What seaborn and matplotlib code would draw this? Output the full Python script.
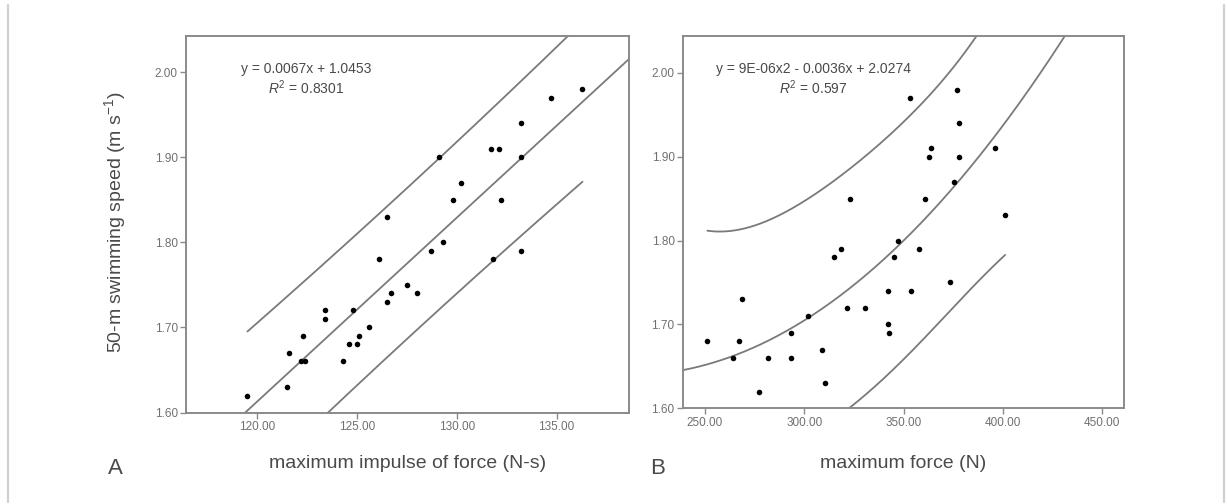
import numpy as np
import matplotlib
matplotlib.use("Agg")
import matplotlib.pyplot as plt
import seaborn as sns
from matplotlib.lines import Line2D

# 50-m swimming speed of each athlete (m/s)
speed = [1.98, 1.97, 1.94, 1.91, 1.91, 1.90, 1.90, 1.87, 1.85, 1.85, 1.83,
         1.80, 1.79, 1.79, 1.78, 1.78, 1.75, 1.74, 1.74, 1.73, 1.72, 1.72,
         1.71, 1.70, 1.69, 1.69, 1.68, 1.68, 1.67, 1.66, 1.66, 1.66, 1.63, 1.62]

# Panel A: maximum impulse of force (N-s), paired with speed above
impulse = [136.3, 134.7, 133.2, 131.7, 132.1, 133.2, 129.1, 130.2, 129.8, 132.2, 126.5,
           129.3, 128.7, 133.2, 131.8, 126.1, 127.5, 126.7, 128.0, 126.5, 123.4, 124.8,
           123.4, 125.6, 122.3, 125.1, 124.6, 125.0, 121.6, 122.2, 122.4, 124.3, 121.5, 119.5]

# Panel B: maximum force (N), paired with speed above
force = [376.7, 353.2, 377.9, 363.8, 396.0, 363.0, 377.9, 375.5, 323.0, 360.8, 401.1,
         347.0, 318.3, 357.6, 315.0, 345.2, 373.4, 342.3, 353.9, 268.6, 321.3, 330.4,
         301.7, 342.3, 293.2, 342.8, 251.2, 267.1, 308.8, 263.9, 281.6, 293.2, 310.4, 277.3]

eq_a = ["y = 0.0067x + 1.0453", "$R^2$ = 0.8301"]
eq_b = ["y = 9E-06x2 - 0.0036x + 2.0274", "$R^2$ = 0.597"]
xlabel_a = "maximum impulse of force (N-s)"
xlabel_b = "maximum force (N)"
ylabel = "50-m swimming speed (m s$^{-1}$)"
xticks_a = [120, 125, 130, 135]
xticks_b = [250, 300, 350, 400, 450]
yticks = [1.60, 1.70, 1.80, 1.90, 2.00]

sns.set_theme(style="white")
plt.rcParams["font.family"] = ["Liberation Sans", "DejaVu Sans"]
plt.rcParams["mathtext.fontset"] = "custom"
plt.rcParams["mathtext.rm"] = "Liberation Sans"
plt.rcParams["mathtext.it"] = "Liberation Sans:italic"

SPINE = "#8a8a8a"
LINE = "#7a7a7a"
TXT = "#4a4a4a"
TICKTXT = "#707070"
T_CRIT = 2.04  # two-sided 95% t value for ~32 degrees of freedom


def poly_fit(x, y, deg):
    x = np.asarray(x, float)
    y = np.asarray(y, float)
    X = np.vander(x, deg + 1)
    beta, *_ = np.linalg.lstsq(X, y, rcond=None)
    resid = y - X @ beta
    s2 = resid @ resid / (len(x) - deg - 1)
    cov = np.linalg.inv(X.T @ X)

    def predict(grid):
        G = np.vander(grid, deg + 1)
        mean = G @ beta
        se = np.sqrt(s2 * (1 + np.einsum("ij,jk,ik->i", G, cov, G)))
        return mean, mean - T_CRIT * se, mean + T_CRIT * se

    return predict


fig = plt.figure(figsize=(12.27, 5.04), dpi=100)
ax_a = fig.add_axes([0.1516, 0.1815, 0.3610, 0.7470])
ax_b = fig.add_axes([0.5566, 0.1899, 0.3594, 0.7387])

panels = [
    (ax_a, impulse, 1, (116.42, 138.63), (1.60, 2.0425), xticks_a, xlabel_a, eq_a, 0.271),
    (ax_b, force, 2, (238.9, 460.9), (1.60, 2.0438), xticks_b, xlabel_b, eq_b, 0.295),
]

for ax, xs, deg, xlim, ylim, xticks, xlabel, eq, eqx in panels:
    predict = poly_fit(xs, speed, deg)
    full = np.linspace(xlim[0], xlim[1], 400)
    mean, _, _ = predict(full)
    span = np.linspace(min(xs), max(xs), 400)
    _, lo, hi = predict(span)

    ax.plot(full, mean, color=LINE, lw=1.3, zorder=2)
    ax.plot(span, lo, color=LINE, lw=1.3, zorder=2)
    ax.plot(span, hi, color=LINE, lw=1.3, zorder=2)
    sns.scatterplot(x=xs, y=speed, ax=ax, color="black", s=16, linewidth=0, zorder=3)

    ax.set_xlim(*xlim)
    ax.set_ylim(*ylim)
    ax.set_xticks(xticks)
    ax.set_xticklabels([f"{v:.2f}" for v in xticks])
    ax.set_yticks(yticks)
    ax.set_yticklabels([f"{v:.2f}" for v in yticks])
    ax.tick_params(axis="both", direction="out", length=4, width=1, color=SPINE,
                   labelsize=8.5, labelcolor=TICKTXT, pad=2,
                   bottom=True, left=True)
    for sp in ax.spines.values():
        sp.set_color(SPINE)
        sp.set_linewidth(1.4)
    ax.grid(False)

    ax.text(eqx, 0.912, eq[0], transform=ax.transAxes, ha="center", va="center",
            fontsize=10, color=TXT)
    ax.text(eqx, 0.862, eq[1], transform=ax.transAxes, ha="center", va="center",
            fontsize=10, color=TXT)

    # x label centred under the panel, on a common baseline for both panels
    bbox = ax.get_position()
    fig.text((bbox.x0 + bbox.x1) / 2, 1 - 463 / 504, xlabel, ha="center", va="center",
             fontsize=14, color=TXT)

# Shared y label and panel letters
fig.text(115 / 1227, 1 - 222 / 504, ylabel, rotation=90, ha="center", va="center",
         fontsize=14, color=TXT)
fig.text(115 / 1227, 1 - 468 / 504, "A", ha="center", va="center", fontsize=16, color=TXT)
fig.text(658 / 1227, 1 - 468 / 504, "B", ha="center", va="center", fontsize=16, color=TXT)

# Thin grey page rules at the left and right edges
for xp in (8 / 1227, 1224 / 1227):
    fig.add_artist(Line2D([xp, xp], [1 - 5 / 504, 1 - 502 / 504], transform=fig.transFigure,
                          color="#cfcfcf", lw=1.6))

fig.savefig("out.png", dpi=100, facecolor="white")
